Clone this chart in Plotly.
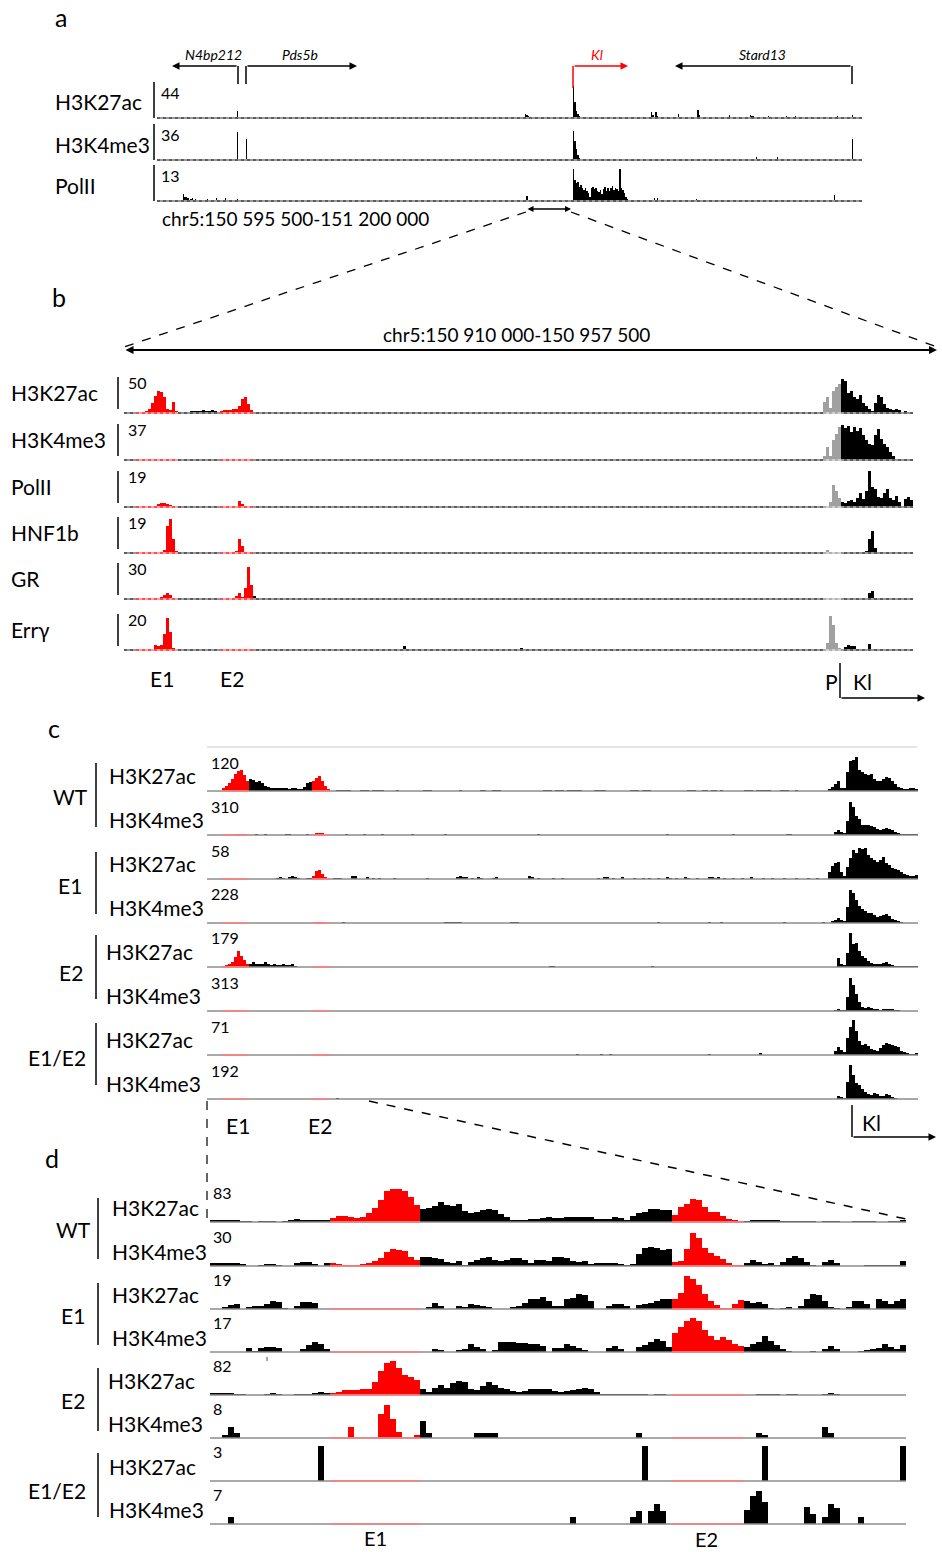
import plotly.graph_objects as go

W, H = 942, 1552
def X(p): return p / W
def Y(p): return 1 - p / H

# ------------------------------------------------------------------ data
# each track: list of (first_bin, [percent of track maximum, ...])
# panel a : chr5:150 595 500-151 200 000 (470 bins)
A_K27AC = [(53, [21]), (59, [4]), (197, [2]), (223, [3]), (235, [2]), (245, [14, 10, 5, 4]),
           (277, [100, 50, 22, 12, 5]), (295, [3]), (329, [18, 8, 0, 20, 6]), (347, [14]),
           (360, [25, 8]), (381, [10]), (395, [10, 5, 6]), (407, [5]), (419, [6]), (425, [5]),
           (439, [4]), (453, [5]), (463, [8])]
A_K4ME3 = [(53, [86]), (59, [65]), (277, [90, 60, 35, 15, 6]), (399, [10]), (413, [10]), (463, [65])]
A_POLII = [(17, [21, 12, 14, 8, 0, 6, 10, 0, 5, 0, 4]), (33, [5]), (39, [8]), (45, [8]), (53, [5]),
           (246, [15]),
           (277, [100, 66, 55, 58, 45, 50, 40, 35, 42, 30, 25, 14, 40, 45, 38, 42, 30, 28, 35, 22,
                  38, 45, 32, 40, 30, 42, 48, 35, 42, 38, 30, 100, 40, 35, 25, 12, 5]),
           (331, [10, 0, 8]), (359, [5]), (451, [20])]

# panel b : chr5:150 910 000-150 957 500 (263 bins)
B_K27AC = [(4, [2, 2, 3, 5, 10, 28, 48, 62, 58, 45, 12, 8, 30, 6]),
           (18, [4, 3, 2, 3, 5, 6, 5, 6, 7, 5, 6, 7, 5, 3]),
           (32, [5, 7, 8, 8, 10, 12, 20, 38, 45, 25, 8, 4]),
           (233, [30, 45, 15, 60, 72, 80]),
           (239, [95, 88, 55, 62, 45, 40, 50, 28, 20, 12, 6, 28, 50, 45, 25, 15, 12, 8, 12, 8, 4, 5, 3, 4])]
B_K4ME3 = [(233, [10, 35, 12, 55, 72, 92]),
           (239, [98, 88, 95, 78, 92, 80, 90, 70, 55, 45, 42, 70, 86, 58, 45, 35, 22, 12, 4, 2])]
B_POLII = [(10, [4, 8, 10, 12, 8, 5]), (37, [4, 18, 8]), (234, [3, 15, 60, 45, 25]),
           (239, [15, 12, 18, 20, 15, 25, 40, 22, 45, 100, 55, 50, 28, 25, 40, 50, 25, 20, 30, 15, 4, 22, 28, 20])]
B_HNF1B = [(13, [8, 75, 95, 40, 5, 2]), (37, [5, 38, 20]), (232, [3, 0, 7, 3]), (247, [5, 40, 60, 15])]
B_GR = [(11, [4, 6, 10, 16, 10, 3]), (36, [4, 8, 16, 5, 30, 90, 40, 9]), (143, [4]), (248, [18, 22, 4])]
B_ERRG = [(10, [15, 12, 14, 45, 88, 50, 5]), (30, [3]), (55, [4]), (93, [12]), (132, [6]),
          (234, [20, 95, 70, 20, 5]), (240, [8, 14, 12, 12]), (248, [16])]

# panel c (237 bins)
C_WT_K27AC = [(5, [8, 15, 22, 35, 48, 58, 60, 45, 30]),
              (14, [35, 32, 25, 30, 22, 15, 12, 10, 8, 8, 9, 10, 8, 7, 9, 10, 7, 6, 12, 22, 26]),
              (35, [28, 38, 42, 30, 15, 5]), (43, [3, 3, 3, 3, 3]), (51, [2, 2, 2, 0, 2, 2, 2, 2]),
              (63, [3]), (72, [3, 3, 3]), (84, [2]), (91, [2, 2, 0, 0, 2, 2, 2]),
              (112, [2, 3, 2, 0, 2, 3, 2, 0, 2, 3, 2, 2, 3]), (129, [3, 3, 3, 3]),
              (141, [2, 3, 2, 0, 2, 3, 2]), (160, [3, 3, 3]), (165, [2, 2, 0, 2, 2, 0, 2]),
              (179, [3, 3, 2, 0, 3, 3, 2, 3, 3]), (191, [3, 3, 3]), (196, [3]),
              (207, [6, 12, 20, 28, 8, 10, 55, 85, 90, 98, 60, 55, 50, 45, 48, 35, 28, 30, 35, 40,
                     38, 30, 20, 12, 8, 5, 5, 8, 8, 6])]
C_WT_K4ME3 = [(10, [4, 4, 4]), (16, [2]), (19, [2]), (26, [2, 2]), (33, [2]), (36, [5, 5, 5]),
              (46, [2]), (52, [2]), (58, [2]), (68, [2]), (79, [2]), (110, [2]), (153, [2]),
              (175, [2]), (193, [3, 3]),
              (209, [8, 15, 10, 5, 40, 95, 80, 55, 45, 30, 30, 28, 25, 22, 18, 15, 18, 20, 18, 15,
                     10, 5, 3, 3, 3, 3, 3, 3])]
C_E1_K27AC = [(23, [4, 5, 3, 0, 5, 8, 5, 3, 0, 0, 4, 3]), (35, [10, 22, 25, 15, 5]), (42, [4, 4, 4]),
              (48, [10, 10]), (53, [5, 0, 4, 0, 4]), (62, [3]), (73, [4]),
              (83, [6, 8, 6, 5, 0, 4, 0, 5, 4]), (95, [4, 5]), (107, [8, 6, 0, 3]), (115, [3, 0, 0, 4]),
              (130, [3, 0, 6, 5, 0, 3]), (138, [5]), (142, [3]), (145, [4, 0, 3]), (150, [3]),
              (153, [5, 4, 0, 3]), (159, [5, 4]), (163, [3]), (167, [5, 5, 4, 5, 0, 3]), (175, [4]),
              (178, [3]), (181, [5]), (185, [3]), (188, [3]), (192, [4]), (196, [3]), (200, [3]),
              (203, [3]),
              (207, [20, 38, 45, 50, 20, 10, 35, 60, 82, 75, 90, 85, 88, 70, 60, 55, 50, 55, 62, 45,
                     40, 32, 30, 25, 20, 15, 12, 8, 10, 12])]
C_E1_K4ME3 = [(36, [4, 4, 4]), (45, [3]), (79, [2, 3, 2, 3, 2, 3]), (101, [3, 3, 3]), (150, [3]),
              (167, [3]), (171, [3]), (192, [3]), (205, [2]),
              (208, [5, 8, 15, 10, 5, 45, 95, 85, 65, 50, 40, 35, 30, 28, 22, 18, 20, 22, 25, 20,
                     12, 8, 5, 3])]
C_E2_K27AC = [(5, [3, 5, 8, 15, 30, 45, 32, 20, 10]),
              (14, [10, 14, 8, 10, 8, 14, 10, 6, 8, 6, 5, 8, 6, 6, 8, 3]), (114, [2, 2]), (148, [2]),
              (210, [25, 10, 5, 40, 98, 65, 70, 45, 32, 25, 18, 12, 8, 8, 8, 12, 14, 10, 6, 3, 2, 2,
                     2, 2, 2, 2, 2])]
C_E2_K4ME3 = [(209, [3, 6, 4, 3, 40, 95, 75, 50, 25, 12, 10, 12, 8, 6, 5, 4, 5, 6, 7, 6, 4, 2])]
C_E12_K27AC = [(123, [3]), (131, [4]), (134, [4]), (167, [4]), (184, [5]),
               (209, [12, 22, 15, 8, 50, 80, 100, 70, 40, 30, 32, 25, 18, 15, 12, 20, 30, 35, 32,
                      28, 25, 22, 12, 8, 5, 3, 3, 6])]
C_E12_K4ME3 = [(43, [2]),
               (210, [10, 6, 4, 50, 98, 70, 45, 40, 28, 20, 15, 12, 18, 15, 8, 10, 14, 12, 6, 3])]

# panel d (116 bins)
D_WT_K27AC = [(0, [6, 7, 7, 6, 6, 3, 2, 1, 2, 4, 3, 1, 3, 5, 8, 7, 6, 7, 7, 6,
                   12, 18, 17, 13, 12, 15, 25, 40, 62, 88, 95, 95, 88, 72, 50,
                   36, 40, 45, 58, 50, 45, 52, 32, 25, 30, 33, 36, 34, 22, 15, 5, 5, 7, 8, 9, 12, 14, 12,
                   12, 14, 15, 15, 14, 13, 10, 8, 10, 14, 12, 6, 18, 25, 30, 36, 38, 35, 33,
                   20, 42, 52, 66, 62, 42, 30, 28, 17, 8, 5, 3,
                   3, 5, 6, 6, 7, 5, 4, 3, 2, 4, 4, 2, 1, 3, 4, 3, 1, 1, 3, 3, 4, 3, 1, 1, 2, 4, 5])]
D_WT_K4ME3 = [(0, [8, 10, 10, 8, 10, 6, 0, 0, 4, 5, 5, 4, 0, 0, 10, 12, 12, 6, 0, 10,
                   10, 6, 4, 3, 3, 6, 10, 14, 22, 40, 48, 46, 42, 25, 18,
                   26, 25, 24, 20, 12, 10, 14, 4, 12, 18, 24, 26, 18, 14, 16, 22, 24, 18, 10, 18, 18, 15, 25,
                   25, 24, 14, 12, 14, 6, 8, 10, 10, 10, 6, 2, 6, 35, 52, 53, 52, 45, 50,
                   12, 15, 48, 95, 80, 52, 38, 28, 20, 8, 3, 2,
                   8, 16, 12, 6, 10, 4, 12, 22, 28, 22, 12, 4, 0, 12, 18, 10, 0, 0, 0, 0, 3, 4, 4, 3, 3, 4, 14])]
D_E1_K27AC = [(0, [0, 0, 6, 12, 15, 0, 5, 8, 10, 15, 22, 20, 3, 0, 8, 20, 20, 18, 0, 0]),
              (35, [0, 6, 18, 8, 0, 0, 8, 6, 14, 12, 10, 6, 0, 0, 0, 6, 10, 18, 28, 30, 35, 22, 10,
                    10, 28, 32, 42, 40, 22, 0, 0, 8, 15, 15, 8, 0, 12, 15, 18, 22, 30, 28,
                    30, 45, 95, 85, 70, 42, 22, 12, 4, 3, 15, 27,
                    22, 18, 20, 14, 4, 0, 2, 6, 0, 8, 30, 42, 40, 22, 6, 4, 0, 6, 22, 22, 14, 0, 30, 22, 15, 22, 28])]
D_E1_K4ME3 = [(0, [0, 0, 0, 0, 0, 0, 12, 4, 12, 15, 15, 12, 0, 0, 0, 8, 20, 30, 22, 8]),
              (35, [0, 0, 10, 6, 0, 0, 5, 10, 22, 14, 8, 0, 6, 28, 28, 28, 25, 25, 22, 22, 18, 0, 12,
                    12, 22, 18, 12, 5, 0, 0, 0, 12, 18, 8, 0, 0, 14, 20, 30, 38, 32, 15,
                    55, 72, 90, 98, 88, 62, 45, 35, 42, 35, 22, 18,
                    15, 22, 30, 45, 32, 20, 10, 4, 0, 0, 0, 4, 0, 8, 18, 10, 0, 0, 0, 4, 6, 8, 12, 22, 15, 10, 20])]
D_E2_K27AC = [(0, [5, 6, 5, 6, 4, 3, 0, 0, 0, 3, 6, 3, 0, 0, 2, 2, 2, 5, 8, 7,
                   6, 10, 13, 14, 14, 18, 18, 38, 68, 92, 96, 76, 58, 52, 42,
                   18, 8, 20, 30, 20, 35, 40, 38, 18, 15, 25, 36, 30, 20, 16, 12, 8, 12, 16, 18, 18, 16, 12,
                   8, 12, 15, 18, 20, 18, 10, 3, 2, 2, 2, 2, 4, 3, 2, 0, 2, 3, 0]),
              (91, [3, 4, 4, 3, 0, 3, 4, 0, 0, 0, 0, 3, 5, 3])]
D_E2_K4ME3 = [(2, [10, 32, 13]), (23, [32]), (28, [70, 95, 55, 18]), (34, [10, 48, 13]),
              (44, [13, 13, 13, 13]), (71, [13]), (91, [13, 10]), (102, [32, 13])]
D_E12_K27AC = [(18, [100]), (72, [100]), (92, [100]), (115, [100])]
D_E12_K4ME3 = [(3, [19]), (60, [19]), (70, [19, 38]), (73, [38, 57, 38]), (89, [40, 81, 95, 62]),
               (99, [50, 30]), (102, [19, 57, 45]), (108, [19])]

# ------------------------------------------------------------------ layout helpers
PANELS = {
    'a': dict(n=470, x0=157, x1=862, h=32, red=[], gray=[], dotted=True),
    'b': dict(n=263, x0=124, x1=913, h=36, red=[(4, 17), (32, 42)], gray=[(233, 238)], dotted=True),
    'c': dict(n=237, x0=207, x1=918, h=35, red=[(5, 13), (35, 40)], gray=[], dotted=False),
    'd': dict(n=116, x0=210, x1=906, h=35, red=[(20, 34), (77, 88)], gray=[], dotted=False),
}

# (panel, label, max label, data, baseline px, label x px)
TRACKS = [
    ('a', 'H3K27ac', 44, A_K27AC, 118, 53), ('a', 'H3K4me3', 36, A_K4ME3, 160, 53),
    ('a', 'PolII', 13, A_POLII, 201, 53),
    ('b', 'H3K27ac', 50, B_K27AC, 413, 9), ('b', 'H3K4me3', 37, B_K4ME3, 460, 9),
    ('b', 'PolII', 19, B_POLII, 507, 9), ('b', 'HNF1b', 19, B_HNF1B, 553, 9),
    ('b', 'GR', 30, B_GR, 599, 9), ('b', 'Errγ', 20, B_ERRG, 650, 9),
    ('c', 'H3K27ac', 120, C_WT_K27AC, 791, 107), ('c', 'H3K4me3', 310, C_WT_K4ME3, 835, 107),
    ('c', 'H3K27ac', 58, C_E1_K27AC, 879, 107), ('c', 'H3K4me3', 228, C_E1_K4ME3, 923, 107),
    ('c', 'H3K27ac', 179, C_E2_K27AC, 967, 104), ('c', 'H3K4me3', 313, C_E2_K4ME3, 1011, 104),
    ('c', 'H3K27ac', 71, C_E12_K27AC, 1055, 104), ('c', 'H3K4me3', 192, C_E12_K4ME3, 1099, 104),
    ('d', 'H3K27ac', 83, D_WT_K27AC, 1222, 110), ('d', 'H3K4me3', 30, D_WT_K4ME3, 1266, 110),
    ('d', 'H3K27ac', 19, D_E1_K27AC, 1309, 110), ('d', 'H3K4me3', 17, D_E1_K4ME3, 1352, 110),
    ('d', 'H3K27ac', 82, D_E2_K27AC, 1395, 106), ('d', 'H3K4me3', 8, D_E2_K4ME3, 1438, 106),
    ('d', 'H3K27ac', 3, D_E12_K27AC, 1481, 107), ('d', 'H3K4me3', 7, D_E12_K4ME3, 1524, 107),
]
LABEL_DY = {'a': 16, 'b': 21, 'c': 16, 'd': 15}
MAX_X = {'a': 159, 'b': 126, 'c': 209, 'd': 211}
MAX_DY = {'a': 26, 'b': 31, 'c': 29, 'd': 30}

FONT = 'Lato'
RED, GRAY, BLACK = '#ff0000', '#a0a0a0', '#000000'

def dense(segs, n):
    arr = [0] * n
    for s, vals in segs:
        for k, v in enumerate(vals):
            arr[s + k] = v
    return arr

def in_ranges(k, ranges):
    return any(a <= k <= b for a, b in ranges)

fig = go.Figure()
axes = {}
shapes = []
ann = []

def line(x0, y0, x1, y1, color='black', width=1.5, dash='solid'):
    shapes.append(dict(type='line', xref='paper', yref='paper', x0=X(x0), y0=Y(y0), x1=X(x1), y1=Y(y1),
                       line=dict(color=color, width=width, dash=dash)))

def text(s, x, y, size, anchor='left', color='black', italic=False):
    ann.append(dict(text=s, x=X(x), y=Y(y), xref='paper', yref='paper', showarrow=False,
                    xanchor=anchor, yanchor='middle',
                    font=dict(family=FONT, size=size, color=color,
                              style='italic' if italic else 'normal')))

def arrow(xh, yh, xt, yt, color='black', width=1.5, both=False, size=1.0):
    ann.append(dict(text='', x=X(xh), y=Y(yh), xref='paper', yref='paper', showarrow=True,
                    ax=xt - xh, ay=yt - yh, axref='pixel', ayref='pixel',
                    arrowhead=2, startarrowhead=2, arrowsize=size, startarrowsize=size,
                    arrowwidth=width, arrowcolor=color, standoff=0, startstandoff=0,
                    arrowside='end+start' if both else 'end'))

for i, (pn, label, mx, segs, base, lx) in enumerate(TRACKS, start=1):
    p = PANELS[pn]
    n = p['n']
    vals = dense(segs, n)
    xs = [k for k in range(n) if vals[k] > 0]
    ys = [vals[k] * mx / 100 for k in xs]
    cols = [RED if in_ranges(k, p['red']) else (GRAY if in_ranges(k, p['gray']) else BLACK) for k in xs]
    xa = 'x' if i == 1 else f'x{i}'
    ya = 'y' if i == 1 else f'y{i}'
    fig.add_trace(go.Bar(x=xs, y=ys, width=1, marker=dict(color=cols, line=dict(width=0)),
                         xaxis=xa, yaxis=ya, showlegend=False, hoverinfo='skip'))
    axes['xaxis' if i == 1 else f'xaxis{i}'] = dict(domain=[X(p['x0']), X(p['x1'])], range=[-0.5, n - 0.5],
                                                    visible=False, anchor=ya, fixedrange=True)
    axes['yaxis' if i == 1 else f'yaxis{i}'] = dict(domain=[Y(base), Y(base - p['h'])], range=[0, mx],
                                                    visible=False, anchor=xa, fixedrange=True)
    # baseline
    bw = (p['x1'] - p['x0']) / n
    if p['dotted']:
        line(p['x0'], base, p['x1'], base, '#9a9a9a', 2)
        line(p['x0'], base, p['x1'], base, '#222222', 1.2, 'dot')
        for a, b in p['red']:
            line(p['x0'] + a * bw, base, p['x0'] + (b + 1) * bw, base, '#ffa0a0', 2)
            line(p['x0'] + a * bw, base, p['x0'] + (b + 1) * bw, base, '#ff0000', 1.2, 'dot')
        for a, b in p['gray']:
            line(p['x0'] + a * bw, base, p['x0'] + (b + 1) * bw, base, '#d0d0d0', 2)
            line(p['x0'] + a * bw, base, p['x0'] + (b + 1) * bw, base, '#909090', 1.2, 'dot')
        # scale bar
        sx = 154 if pn == 'a' else 118
        line(sx, base - 36, sx, base - (0 if pn == 'a' else 4), 'black', 1.5)
    else:
        line(p['x0'], base, p['x1'], base, '#8c8c8c', 1.5)
        for a, b in p['red']:
            line(p['x0'] + a * bw, base, p['x0'] + (b + 1) * bw, base, '#ff8080', 1.5)
    text(label, lx, base - LABEL_DY[pn], 21)
    text(str(mx), MAX_X[pn], base - MAX_DY[pn], 16)

# ---------------- panel letters
text('a', 53, 17, 25)
text('b', 50, 297, 25)
text('c', 46, 728, 25)
text('d', 43, 1158, 25)

# ---------------- panel a genes
text('N4bp212', 213, 55, 14, 'center', italic=True)
text('Pds5b', 300, 55, 14, 'center', italic=True)
text('Kl', 597, 55, 14, 'center', color=RED, italic=True)
text('Stard13', 762, 55, 14, 'center', italic=True)
arrow(172, 66, 238, 66)
line(238, 66, 238, 84)
line(246, 84, 246, 66)
arrow(357, 66, 246, 66)
line(573, 88, 573, 66, RED)
arrow(628, 66, 573, 66, RED)
line(852, 84, 852, 66)
arrow(675, 66, 852, 66)
text('chr5:150 595 500-151 200 000', 160, 219, 19)
arrow(571, 209, 526, 209, both=True, width=1.5, size=0.8)
line(526, 212, 124, 347, 'black', 1.3, 'dash')
line(571, 212, 937, 347, 'black', 1.3, 'dash')

# ---------------- panel b
text('chr5:150 910 000-150 957 500', 516, 334, 19, 'center')
arrow(937, 350, 124, 350, both=True, width=2, size=0.8)
text('E1', 162, 678, 21, 'center')
text('E2', 232, 678, 21, 'center')
text('P', 831, 681, 21, 'center')
text('Kl', 862, 681, 21, 'center')
line(840, 663, 840, 698)
arrow(925, 698, 840, 698)

# ---------------- panel c
line(207, 747, 917, 747, '#dddddd', 1.5)
for lab, cx, cy in [('WT', 70, 797), ('E1', 70, 885), ('E2', 71, 972), ('E1/E2', 57, 1057)]:
    text(lab, cx, cy, 21, 'center')
for y0, y1 in [(763, 827), (852, 914), (935, 999), (1023, 1085)]:
    line(96, y0, 96, y1)
text('E1', 238, 1125, 21, 'center')
text('E2', 320, 1125, 21, 'center')
text('Kl', 871, 1122, 21, 'center')
line(852, 1105, 852, 1137)
arrow(936, 1137, 852, 1137)
line(207, 1101, 207, 1222, 'black', 1.2, 'dash')
line(369, 1101, 906, 1219, 'black', 1.5, 'dash')

# ---------------- panel d
for lab, cx, cy in [('WT', 73, 1229), ('E1', 73, 1315), ('E2', 73, 1400), ('E1/E2', 57, 1490)]:
    text(lab, cx, cy, 21, 'center')
for y0, y1 in [(1198, 1259), (1283, 1345), (1368, 1431), (1453, 1517)]:
    line(98, y0, 98, y1)
text('ı', 267, 1358, 8, 'center')
text('E1', 375, 1538, 20, 'center')
text('E2', 706, 1539, 20, 'center')

fig.update_layout(width=W, height=H, margin=dict(l=0, r=0, t=0, b=0), paper_bgcolor='white',
                  plot_bgcolor='white', bargap=0, shapes=shapes, annotations=ann, **axes)
fig.write_html('out.html', config={'displayModeBar': False, 'staticPlot': True},
               post_script="document.body.style.margin='0';document.body.style.padding='0';"
                           "document.body.style.overflow='hidden';"
                           "document.documentElement.style.overflow='hidden';")
